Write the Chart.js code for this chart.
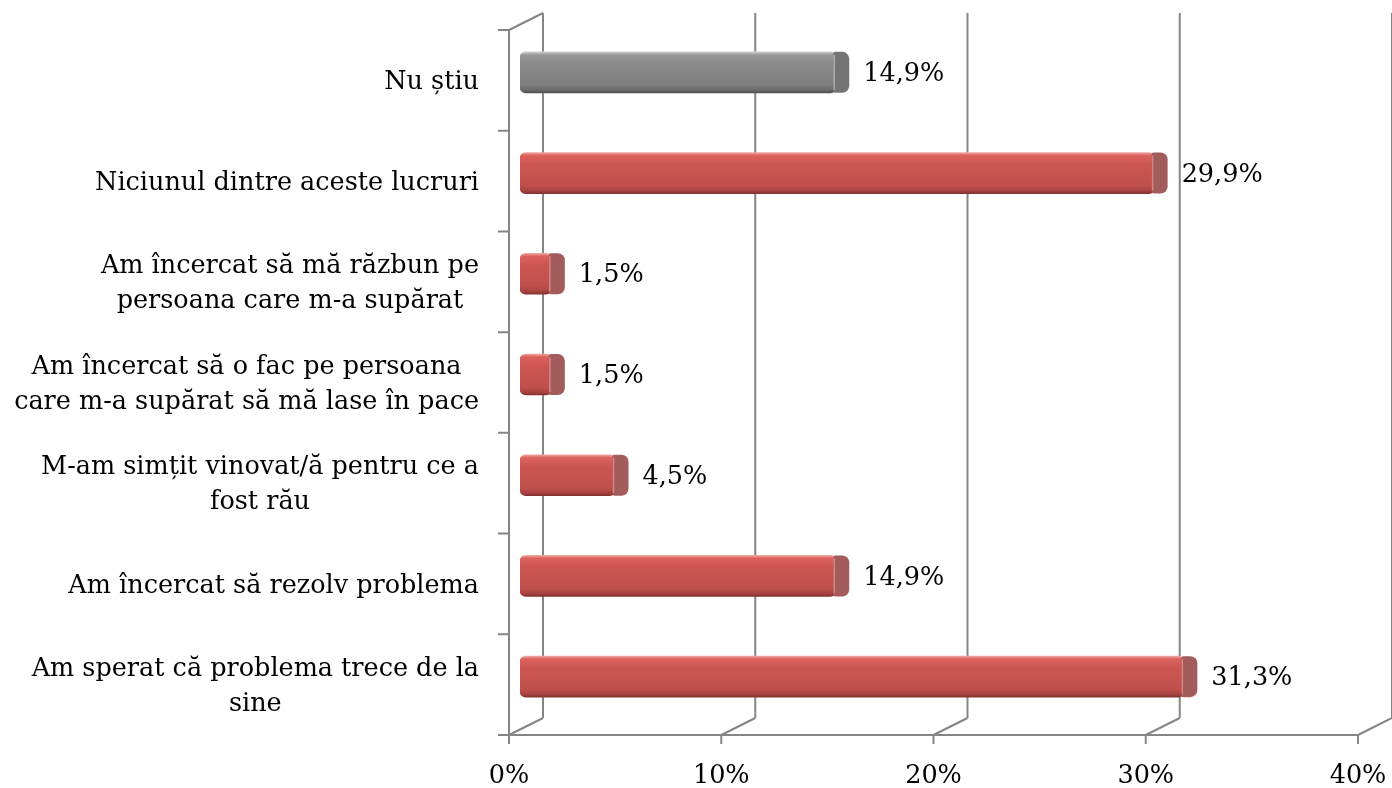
<!DOCTYPE html>
<html lang="ro">
<head>
    <meta charset="UTF-8">
    <title>Reacții</title>
    <style>
        body {
            margin: 0;
            padding: 0;
            background-color: #ffffff;
        }
        #wrap {
            width: 1392px;
            height: 788px;
        }
    </style>
</head>
<body>
    <div id="wrap">
        <canvas id="reactionsChart"></canvas>
    </div>

    <script src="https://cdn.jsdelivr.net/npm/chart.js"></script>
    <script>
        // Data
        const categories = [
            ['Nu știu'],
            ['Niciunul dintre aceste lucruri'],
            ['Am încercat să mă răzbun pe', 'persoana care m-a supărat'],
            ['Am încercat să o fac pe persoana', 'care m-a supărat să mă lase în pace'],
            ['M-am simțit vinovat/ă pentru ce a', 'fost rău'],
            ['Am încercat să rezolv problema'],
            ['Am sperat că problema trece de la', 'sine']
        ];
        const values = [14.9, 29.9, 1.5, 1.5, 4.5, 14.9, 31.3];
        const neutralCategory = 'Nu știu';
        const tickValues = [0, 10, 20, 30, 40];

        const FONT = '"DejaVu Serif", "Liberation Serif", serif';
        const FONT_SIZE = 25.5;
        const DEPTH_X = 34, DEPTH_Y = -17;   // back wall offset
        const BAR_X = 11, BAR_Y = -8;        // bars sit half way back
        const BAR_H = 41;
        const CAP_W = 13;
        const GRID = '#858585';

        function isNeutral(i) {
            return categories[i][0] === neutralCategory;
        }

        // vertical shading so the bars look round
        function barFill(context) {
            const chart = context.chart;
            const yScale = chart.scales.y;
            const flat = isNeutral(context.dataIndex) ? '#808080' : '#c0504d';
            if (!yScale) return flat;
            const yc = yScale.getPixelForValue(context.dataIndex);
            if (!Number.isFinite(yc)) return flat;
            const g = chart.ctx.createLinearGradient(0, yc - BAR_H / 2, 0, yc + BAR_H / 2);
            if (isNeutral(context.dataIndex)) {
                g.addColorStop(0, '#cfcfcf');
                g.addColorStop(0.07, '#9a9a9a');
                g.addColorStop(0.3, '#8a8a8a');
                g.addColorStop(0.8, '#7f7f7f');
                g.addColorStop(0.93, '#6a6a6a');
                g.addColorStop(1, '#505050');
            } else {
                g.addColorStop(0, '#f0a6a2');
                g.addColorStop(0.07, '#dc625e');
                g.addColorStop(0.3, '#cc5551');
                g.addColorStop(0.8, '#c0504d');
                g.addColorStop(0.93, '#a8423f');
                g.addColorStop(1, '#843230');
            }
            return g;
        }

        // walls, floor lines, axes and labels drawn from the scales
        const frame3d = {
            id: 'frame3d',
            beforeDatasetsDraw(chart) {
                const ctx = chart.ctx;
                const x = chart.scales.x;
                const area = chart.chartArea;
                ctx.save();
                ctx.strokeStyle = GRID;
                ctx.lineWidth = 2;
                ctx.beginPath();
                tickValues.forEach(v => {
                    const px = x.getPixelForValue(v);
                    // back wall gridline
                    ctx.moveTo(px + DEPTH_X, area.top + DEPTH_Y);
                    ctx.lineTo(px + DEPTH_X, area.bottom + DEPTH_Y);
                    // floor diagonal
                    ctx.moveTo(px, area.bottom);
                    ctx.lineTo(px + DEPTH_X, area.bottom + DEPTH_Y);
                    // tick mark
                    ctx.moveTo(px, area.bottom);
                    ctx.lineTo(px, area.bottom + 9);
                });
                // front axes
                ctx.moveTo(area.left - 11, area.bottom);
                ctx.lineTo(area.right, area.bottom);
                ctx.moveTo(area.left, area.top);
                ctx.lineTo(area.left, area.bottom);
                ctx.moveTo(area.left, area.top);
                ctx.lineTo(area.left + DEPTH_X, area.top + DEPTH_Y);
                // category separators on the left axis
                const band = (area.bottom - area.top) / categories.length;
                for (let i = 0; i <= categories.length; i++) {
                    const py = area.top + band * i;
                    ctx.moveTo(area.left - 11, py);
                    ctx.lineTo(area.left, py);
                }
                ctx.stroke();

                // percent ticks under the front axis
                ctx.font = FONT_SIZE + 'px ' + FONT;
                ctx.fillStyle = '#000';
                ctx.textAlign = 'center';
                ctx.textBaseline = 'middle';
                tickValues.forEach(v => {
                    ctx.fillText(v + '%', x.getPixelForValue(v), area.bottom + 41);
                });
                ctx.restore();

                // push the bars back into the middle of the depth
                ctx.save();
                ctx.translate(BAR_X, BAR_Y);
            },
            afterDatasetsDraw(chart) {
                const ctx = chart.ctx;
                const meta = chart.getDatasetMeta(0);
                // end faces
                meta.data.forEach((bar, i) => {
                    const top = bar.y - BAR_H / 2;
                    ctx.beginPath();
                    ctx.roundRect(bar.x - 3, top, CAP_W + 3, BAR_H, [2, 7, 7, 2]);
                    ctx.fillStyle = isNeutral(i) ? '#747474' : '#a25c5b';
                    ctx.fill();
                    ctx.beginPath();
                    ctx.moveTo(bar.x - 2, top + 3);
                    ctx.lineTo(bar.x - 2, top + BAR_H - 3);
                    ctx.strokeStyle = isNeutral(i) ? 'rgba(200,200,200,0.7)' : 'rgba(240,150,145,0.7)';
                    ctx.lineWidth = 1.5;
                    ctx.stroke();
                });
                ctx.restore();

                // value labels
                ctx.save();
                ctx.font = FONT_SIZE + 'px ' + FONT;
                ctx.fillStyle = '#000';
                ctx.textAlign = 'left';
                ctx.textBaseline = 'middle';
                meta.data.forEach((bar, i) => {
                    const txt = values[i].toFixed(1).replace('.', ',') + '%';
                    ctx.fillText(txt, bar.x + BAR_X + CAP_W + 14, bar.y + BAR_Y + 2);
                });
                ctx.restore();
            },
            afterDraw(chart) {
                // category labels, block right aligned, lines centred
                const ctx = chart.ctx;
                const y = chart.scales.y;
                const right = chart.chartArea.left - 30;
                const lineH = 35;
                ctx.save();
                ctx.font = FONT_SIZE + 'px ' + FONT;
                ctx.fillStyle = '#000';
                ctx.textAlign = 'center';
                ctx.textBaseline = 'middle';
                categories.forEach((lines, i) => {
                    const w = Math.max(...lines.map(l => ctx.measureText(l).width));
                    const cx = right - w / 2;
                    const cy = y.getPixelForValue(i) + 2;
                    lines.forEach((l, k) => {
                        ctx.fillText(l, cx, cy + (k - (lines.length - 1) / 2) * lineH);
                    });
                });
                ctx.restore();
            }
        };

        const ctx = document.getElementById('reactionsChart').getContext('2d');
        const reactionsChart = new Chart(ctx, {
            type: 'bar',
            data: {
                labels: categories,
                datasets: [{
                    data: values,
                    backgroundColor: barFill,
                    borderWidth: 0,
                    borderSkipped: false,
                    borderRadius: 6,
                    barThickness: BAR_H
                }]
            },
            options: {
                indexAxis: 'y',
                responsive: true,
                maintainAspectRatio: false,
                animation: false,
                layout: {
                    padding: { left: 509, right: 34, top: 30, bottom: 53 }
                },
                plugins: {
                    legend: { display: false },
                    tooltip: { enabled: false }
                },
                scales: {
                    x: {
                        display: false,
                        min: 0,
                        max: 40
                    },
                    y: {
                        display: false,
                        offset: true
                    }
                }
            },
            plugins: [frame3d]
        });
    </script>
</body>
</html>
